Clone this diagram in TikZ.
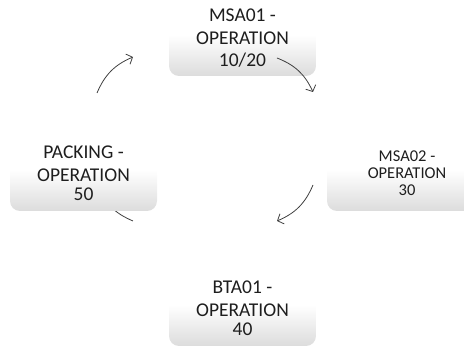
\documentclass[tikz,border=0pt]{standalone}
\usepackage{fontspec}
\setmainfont{Carlito}
\usepackage{xcolor}
\usepackage{tikz}
\usetikzlibrary{arrows.meta}
\definecolor{boxgray}{RGB}{220, 220, 220}
\definecolor{arrowgray}{RGB}{64, 64, 64}
\definecolor{textgray}{RGB}{30, 30, 30}
\pgfdeclareverticalshading{opshade}{100bp}{color(0bp)=(boxgray); color(25bp)=(boxgray); color(52bp)=(white); color(100bp)=(white)}

\begin{document}
\begin{tikzpicture}[
        x=1pt, y=1pt,
        >={Straight Barb[length=5pt, width=11pt]},
        opbox/.style={rectangle, rounded corners=10pt, minimum width=147pt, minimum height=76pt, shading=opshade, text=textgray, align=center, inner sep=0pt, font=\fontsize{19.5}{17}\selectfont},
        cycleflow/.style={->, line width=0.8pt, color=arrowgray, bend left=22}
    ]
    \useasboundingbox (0,0) rectangle (464,-347);

    % Arrow ends
    \coordinate (a1s) at (277,-58);
    \coordinate (a1e) at (313,-92);
    \coordinate (a2s) at (313,-185);
    \coordinate (a2e) at (277,-221);
    \coordinate (a3s) at (133,-221);
    \coordinate (a3e) at (97,-185);
    \coordinate (a4s) at (97,-93);
    \coordinate (a4e) at (133,-57);

    % Hidden arrow behind the packing box
    \draw[cycleflow] (a3s) to (a3e);

    % Operations
    \node[opbox] (msa01) at (242.5,-38) {MSA01 -\\[6pt] OPERATION\\[5pt] 10/20};
    \node[opbox, minimum width=160pt, font=\fontsize{16.5}{17}\selectfont] (msa02) at (407,-173) {MSA02 -\\ OPERATION\\ 30};
    \node[opbox] (bta01) at (242.5,-308) {BTA01 -\\[6pt] OPERATION\\[2pt] 40};
    \node[opbox] (packing) at (83.5,-173) {PACKING -\\[6pt] OPERATION\\[2pt] 50};

    % Cycle
    \draw[cycleflow] (a1s) to (a1e);
    \draw[cycleflow] (a2s) to (a2e);
    \draw[cycleflow] (a4s) to (a4e);

\end{tikzpicture}
\end{document}
